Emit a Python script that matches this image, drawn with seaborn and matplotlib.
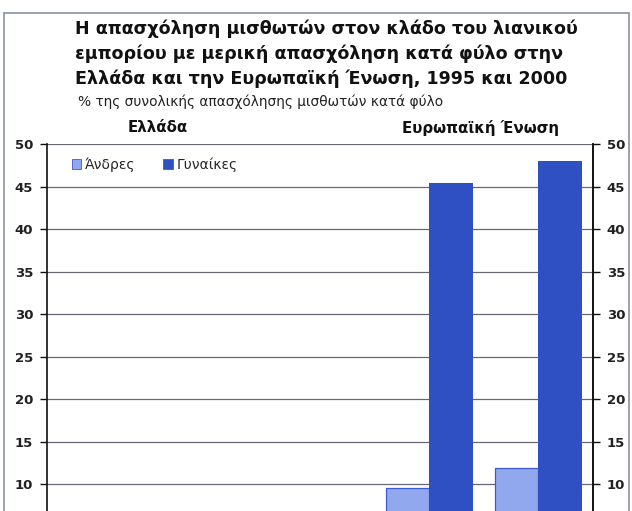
import matplotlib
matplotlib.use("Agg")
import matplotlib.pyplot as plt
import seaborn as sns
import pandas as pd
from matplotlib.patches import Rectangle

# ---- data ----
categories = ["Ελλάδα 1995", "Ελλάδα 2000", " ", "ΕΕ 1995", "ΕΕ 2000"]
data_categories = ["Ελλάδα 1995", "Ελλάδα 2000", "ΕΕ 1995", "ΕΕ 2000"]
men = [1.5, 2.0, 9.6, 11.9]      # Greece values lie below the visible (cropped) range
women = [4.0, 5.0, 45.4, 48.0]
series = ["Άνδρες", "Γυναίκες"]
yticks = [10, 15, 20, 25, 30, 35, 40, 45, 50]

df = pd.DataFrame({
    "cat": data_categories * 2,
    "sex": [series[0]] * 4 + [series[1]] * 4,
    "val": men + women,
})

sns.set_style("white")
plt.rcParams["font.family"] = ["DejaVu Sans"]

fig = plt.figure(figsize=(6.32, 5.11), dpi=100)
ax = fig.add_axes([47 / 632, 0.0, (593 - 47) / 632, 1 - 144 / 511])

palette = {series[0]: "#91a7ee", series[1]: "#2e50c2"}
sns.barplot(data=df, x="cat", y="val", hue="sex", order=categories,
            hue_order=series, palette=palette, width=0.8, ax=ax,
            saturation=1, linewidth=0, errorbar=None)

for p in ax.containers[0]:
    p.set_edgecolor("#3a5ad0")
    p.set_linewidth(0.9)

ax.set_ylim(6.85, 50)
ax.set_xlim(-0.5, 4.5)
ax.set_yticks(yticks)
ax.set_xticks([])
ax.set_xlabel("")
ax.set_ylabel("")
ax.set_axisbelow(True)
ax.yaxis.grid(True, color="#6a6878", linewidth=0.9)
for s in ["top", "bottom"]:
    ax.spines[s].set_visible(False)
for s in ["left", "right"]:
    ax.spines[s].set_color("#111111")
    ax.spines[s].set_linewidth(1.2)
ax.tick_params(axis="y", direction="out", length=5, width=1, color="#111111",
               labelsize=9.5, pad=5, left=True)
for t in ax.get_yticklabels():
    t.set_fontweight("bold")
    t.set_color("#222222")

ax2 = ax.twinx()
ax2.set_ylim(ax.get_ylim())
ax2.set_yticks(yticks)
for s in ["top", "bottom", "left"]:
    ax2.spines[s].set_visible(False)
ax2.spines["right"].set_color("#111111")
ax2.spines["right"].set_linewidth(1.2)
ax2.tick_params(axis="y", direction="out", length=5, width=1, color="#111111",
                labelsize=9.5, pad=5)
for t in ax2.get_yticklabels():
    t.set_fontweight("bold")
    t.set_color("#222222")

leg = ax.legend(loc="upper left", bbox_to_anchor=(0.035, 0.978), ncol=2, frameon=False,
                fontsize=10, handlelength=0.7, handleheight=0.7, handletextpad=0.25,
                columnspacing=2.0, borderaxespad=0)
for h in leg.legend_handles:
    h.set_edgecolor("#3a5ad0")
    h.set_linewidth(0.6)

# titles
fig.text(75 / 632, 1 - 20 / 511,
         "Η απασχόληση μισθωτών στον κλάδο του λιανικού\n"
         "εμπορίου με μερική απασχόληση κατά φύλο στην\n"
         "Ελλάδα και την Ευρωπαϊκή Ένωση, 1995 και 2000",
         ha="left", va="top", fontsize=12.6, fontweight="bold", linespacing=1.42,
         color="#111111")
fig.text(78 / 632, 1 - 102 / 511, "% της συνολικής απασχόλησης μισθωτών κατά φύλο",
         ha="left", va="center", fontsize=9.9, color="#222222")
fig.text(158 / 632, 1 - 128 / 511, "Ελλάδα", ha="center", va="center",
         fontsize=10.8, fontweight="bold", color="#111111")
fig.text(480 / 632, 1 - 128 / 511, "Ευρωπαϊκή Ένωση", ha="center", va="center",
         fontsize=10.8, fontweight="bold", color="#111111")

# outer frame
fig.patches.append(Rectangle((4 / 632, -0.05), 625 / 632, 1.05 - 13 / 511,
                             transform=fig.transFigure, fill=False,
                             edgecolor="#8a90a8", linewidth=1.2))

fig.savefig("out.png", dpi=100)
